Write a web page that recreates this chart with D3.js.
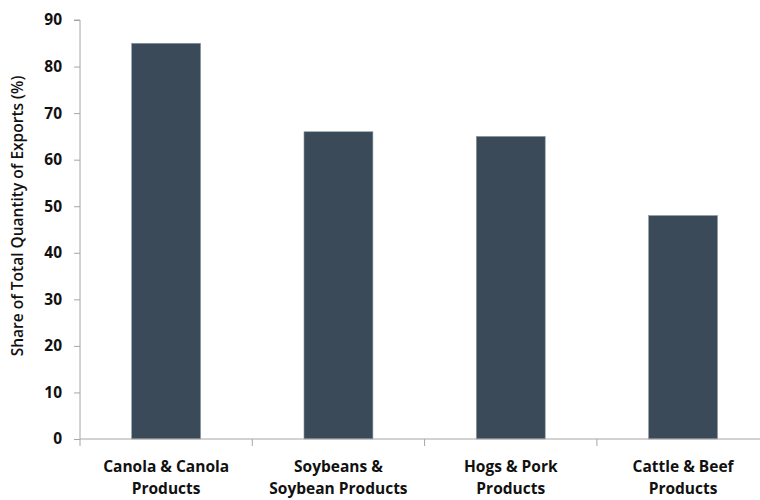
<!DOCTYPE html>
<html>
<head>
<meta charset="utf-8">
<script src="https://cdn.jsdelivr.net/npm/d3@7"></script>
<style>
  html, body { margin: 0; padding: 0; background: #fff; }
  svg { display: block; }
  .tick text { font-family: "Open Sans", Lato, sans-serif; font-weight: 700; fill: #111; }
</style>
</head>
<body>
<svg id="chart" width="760" height="500"></svg>
<script>
// Export shares by product group
const categories = [
  ["Canola & Canola", "Products"],
  ["Soybeans &", "Soybean Products"],
  ["Hogs & Pork", "Products"],
  ["Cattle & Beef", "Products"]
];
const shares = [85, 66, 65, 48];
const yTicks = [0, 10, 20, 30, 40, 50, 60, 70, 80, 90];
const yTitle = "Share of Total Quantity of Exports (%)";

const svg = d3.select("#chart");
const margin = { left: 80, top: 20, bottom: 61 };
const bandW = 172.3;
const plotW = bandW * categories.length;
const plotH = 500 - margin.top - margin.bottom;

const keys = categories.map((c, i) => i);
const x = d3.scaleBand().domain(keys).range([0, plotW]).paddingInner(0.6).paddingOuter(0.3);
const y = d3.scaleLinear().domain([0, 90]).range([plotH, 0]);

const g = svg.append("g").attr("transform", `translate(${margin.left},${margin.top})`);

// bars
g.selectAll("rect.bar")
  .data(shares)
  .join("rect")
  .attr("class", "bar")
  .attr("x", (d, i) => x(i))
  .attr("width", x.bandwidth())
  .attr("y", d => y(d))
  .attr("height", d => y(0) - y(d))
  .attr("fill", "#3a4a58")
  .attr("stroke", "#8f9aa4")
  .attr("stroke-width", 0.6);

// y axis
const yAxis = g.append("g")
  .call(d3.axisLeft(y).tickValues(yTicks).tickSize(6).tickPadding(12).tickFormat(d3.format("d")));
yAxis.selectAll("text").attr("font-size", 15.5);
yAxis.selectAll("line, path").attr("stroke", "#a6a6a6");
yAxis.select(".domain").attr("d", `M-6,${y(90)}H0V${y(0)}`);

// x axis with tick marks between categories
const xAxisG = g.append("g").attr("transform", `translate(0,${plotH})`);
xAxisG.append("line")
  .attr("x1", 0).attr("x2", plotW).attr("y1", 0).attr("y2", 0)
  .attr("stroke", "#a6a6a6");
const dividers = d3.range(categories.length + 1).map(i => i * bandW);
xAxisG.selectAll("line.div")
  .data(dividers)
  .join("line")
  .attr("class", "div")
  .attr("x1", d => d).attr("x2", d => d)
  .attr("y1", 0).attr("y2", 7)
  .attr("stroke", "#a6a6a6");

xAxisG.selectAll("text.cat")
  .data(categories)
  .join("text")
  .attr("class", "cat")
  .attr("x", (d, i) => x(i) + x.bandwidth() / 2)
  .attr("y", 33)
  .attr("text-anchor", "middle")
  .attr("font-family", "'Open Sans', Lato, sans-serif")
  .attr("font-weight", 700)
  .attr("font-size", 15.5)
  .attr("fill", "#111")
  .each(function (d) {
    const t = d3.select(this);
    d.forEach((line, k) => {
      t.append("tspan").attr("x", t.attr("x")).attr("dy", k === 0 ? 0 : 21.6).text(line);
    });
  });

// y axis title
svg.append("text")
  .attr("transform", "translate(23,216) rotate(-90)")
  .attr("text-anchor", "middle")
  .attr("font-family", "'Open Sans', Lato, sans-serif")
  .attr("font-weight", 600)
  .attr("font-size", 15.5)
  .attr("fill", "#111")
  .text(yTitle);
</script>
</body>
</html>
